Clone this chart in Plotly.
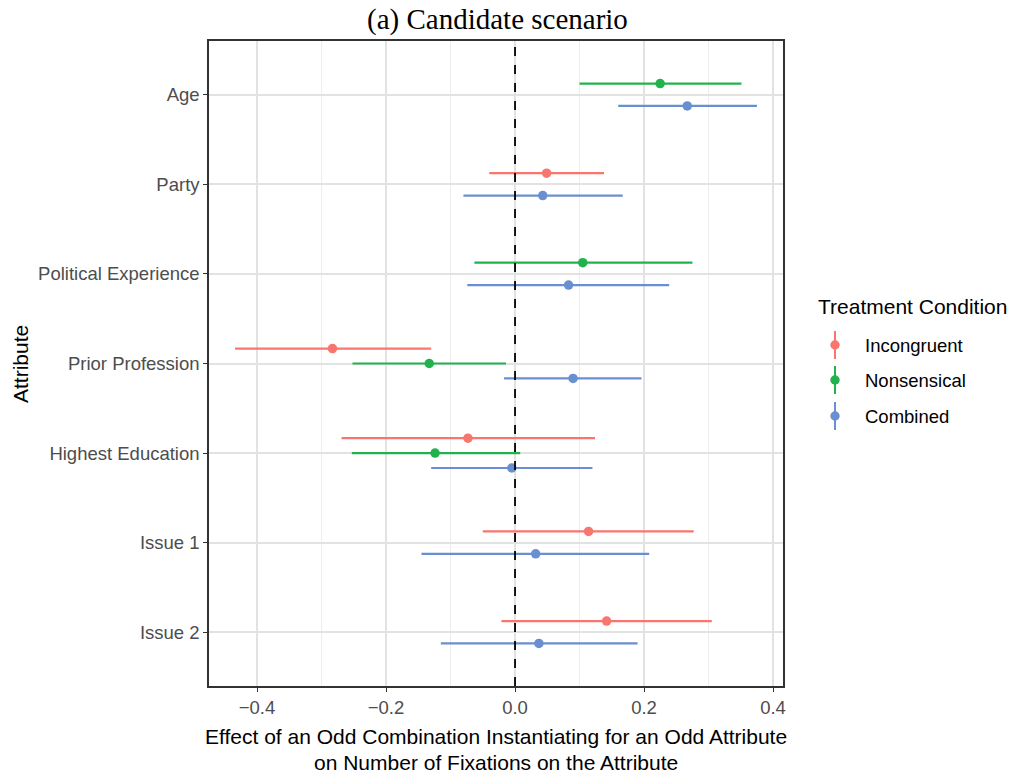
import plotly.graph_objects as go

# ---------------- data ----------------
attributes = ["Age", "Party", "Political Experience", "Prior Profession",
              "Highest Education", "Issue 1", "Issue 2"]  # top to bottom
conditions = ["Incongruent", "Nonsensical", "Combined"]
colors = {"Incongruent": "#F8766D", "Nonsensical": "#22B24C", "Combined": "#6A8FD0"}

incongruent_est = [None, 0.049, None, -0.283, -0.073, 0.114, 0.142]
incongruent_lo  = [None, -0.040, None, -0.434, -0.269, -0.050, -0.021]
incongruent_hi  = [None, 0.138, None, -0.130, 0.124, 0.277, 0.305]

nonsensical_est = [0.225, None, 0.105, -0.133, -0.124, None, None]
nonsensical_lo  = [0.100, None, -0.063, -0.252, -0.253, None, None]
nonsensical_hi  = [0.351, None, 0.275, -0.014, 0.008, None, None]

combined_est = [0.267, 0.043, 0.083, 0.090, -0.005, 0.032, 0.037]
combined_lo  = [0.160, -0.080, -0.074, -0.017, -0.130, -0.145, -0.115]
combined_hi  = [0.375, 0.167, 0.239, 0.196, 0.120, 0.208, 0.190]

x_ticks = [-0.4, -0.2, 0.0, 0.2, 0.4]
x_tick_labels = ["\u22120.4", "\u22120.2", "0.0", "0.2", "0.4"]
x_minor = [-0.3, -0.1, 0.1, 0.3]

series = {
    "Incongruent": (incongruent_est, incongruent_lo, incongruent_hi),
    "Nonsensical": (nonsensical_est, nonsensical_lo, nonsensical_hi),
    "Combined": (combined_est, combined_lo, combined_hi),
}

# ---------------- dodge positions (ggplot position_dodge width 0.5) ----------------
n_attr = len(attributes)
base = {a: n_attr - i for i, a in enumerate(attributes)}  # Age at top
dodge_w = 0.5
ypos = {c: [None] * n_attr for c in conditions}
for i, a in enumerate(attributes):
    present = [c for c in conditions if series[c][0][i] is not None]
    n = len(present)
    for k, c in enumerate(present):
        ypos[c][i] = base[a] + dodge_w / 2 - dodge_w / (2 * n) - k * dodge_w / n

fig = go.Figure()
for c in conditions:
    est, lo, hi = series[c]
    xs, ys, ep, em = [], [], [], []
    for i in range(n_attr):
        if est[i] is None:
            continue
        xs.append(est[i]); ys.append(ypos[c][i])
        ep.append(hi[i] - est[i]); em.append(est[i] - lo[i])
    fig.add_trace(go.Scatter(
        x=xs, y=ys, mode="markers", name=c, showlegend=False,
        marker=dict(color=colors[c], size=9.5),
        error_x=dict(type="data", symmetric=False, array=ep, arrayminus=em,
                     color=colors[c], thickness=2.2, width=0),
    ))

# data range with ggplot 5% expansion
all_vals = [v for c in conditions for arr in series[c][1:] for v in arr if v is not None]
xmin, xmax = min(all_vals), max(all_vals)
pad = (xmax - xmin) * 0.05

# ---------------- layout ----------------
W, H = 1019, 774
L, R, T, B = 209, 783, 41, 686

def px(x):
    return (x - L) / (R - L)

def py(y):
    return 1 - (y - T) / (B - T)

fig.add_shape(type="line", xref="x", yref="paper", x0=0, x1=0, y0=0, y1=1,
              line=dict(color="black", width=1.8, dash="dash"))

annotations = [
    dict(text="(a) Candidate scenario", x=px(497), y=py(20), xref="paper", yref="paper",
         showarrow=False, xanchor="center", yanchor="middle",
         font=dict(family="Liberation Serif", size=29, color="black")),
    dict(text="Attribute", x=px(20), y=py(364), xref="paper", yref="paper",
         showarrow=False, textangle=-90, xanchor="center", yanchor="middle",
         font=dict(family="Liberation Sans", size=21, color="black")),
    dict(text="Effect of an Odd Combination Instantiating for an Odd Attribute",
         x=px(496), y=py(736), xref="paper", yref="paper", showarrow=False,
         xanchor="center", yanchor="middle",
         font=dict(family="Liberation Sans", size=21, color="black")),
    dict(text="on Number of Fixations on the Attribute",
         x=px(496), y=py(762), xref="paper", yref="paper", showarrow=False,
         xanchor="center", yanchor="middle",
         font=dict(family="Liberation Sans", size=21, color="black")),
    dict(text="Treatment Condition", x=px(816), y=py(306), xref="paper", yref="paper",
         showarrow=False, xanchor="left", yanchor="middle",
         font=dict(family="Liberation Sans", size=21, color="black")),
]

legend_y = [345, 380, 416]
for c, ly in zip(conditions, legend_y):
    annotations.append(dict(text=c, x=px(863), y=py(ly), xref="paper", yref="paper",
                            showarrow=False, xanchor="left", yanchor="middle",
                            font=dict(family="Liberation Sans", size=18.5, color="black")))
    fig.add_shape(type="line", xref="paper", yref="paper",
                  x0=px(835), x1=px(835), y0=py(ly - 14), y1=py(ly + 14),
                  line=dict(color=colors[c], width=2))
    fig.add_shape(type="circle", xref="paper", yref="paper",
                  xsizemode="pixel", ysizemode="pixel",
                  xanchor=px(835), yanchor=py(ly),
                  x0=-4.7, x1=4.7, y0=-4.7, y1=4.7,
                  fillcolor=colors[c], line=dict(width=0))

tickfont = dict(family="Liberation Sans", size=18.5, color="#4D4D4D")
fig.update_layout(
    width=W, height=H,
    margin=dict(l=L, r=W - R, t=T, b=H - B, pad=0),
    paper_bgcolor="white", plot_bgcolor="white",
    showlegend=False,
    annotations=annotations,
    xaxis=dict(
        range=[xmin - pad, xmax + pad],
        tickvals=x_ticks, ticktext=x_tick_labels,
        showgrid=True, gridcolor="#E2E2E2", gridwidth=1.8,
        minor=dict(tickvals=x_minor, showgrid=True, gridcolor="#EDEDED", gridwidth=1.0, ticks=""),
        zeroline=False,
        showline=True, mirror=True, linecolor="#333333", linewidth=1.5,
        ticks="outside", ticklen=4, tickcolor="#333333", tickwidth=1.3,
        tickfont=tickfont,
    ),
    yaxis=dict(
        range=[0.4, n_attr + 0.6],
        tickvals=[base[a] for a in attributes], ticktext=attributes,
        showgrid=True, gridcolor="#E2E2E2", gridwidth=1.8,
        zeroline=False,
        showline=True, mirror=True, linecolor="#333333", linewidth=1.5,
        ticks="outside", ticklen=4, tickcolor="#333333", tickwidth=1.3,
        tickfont=tickfont,
    ),
)

fig.write_html("out.html")
